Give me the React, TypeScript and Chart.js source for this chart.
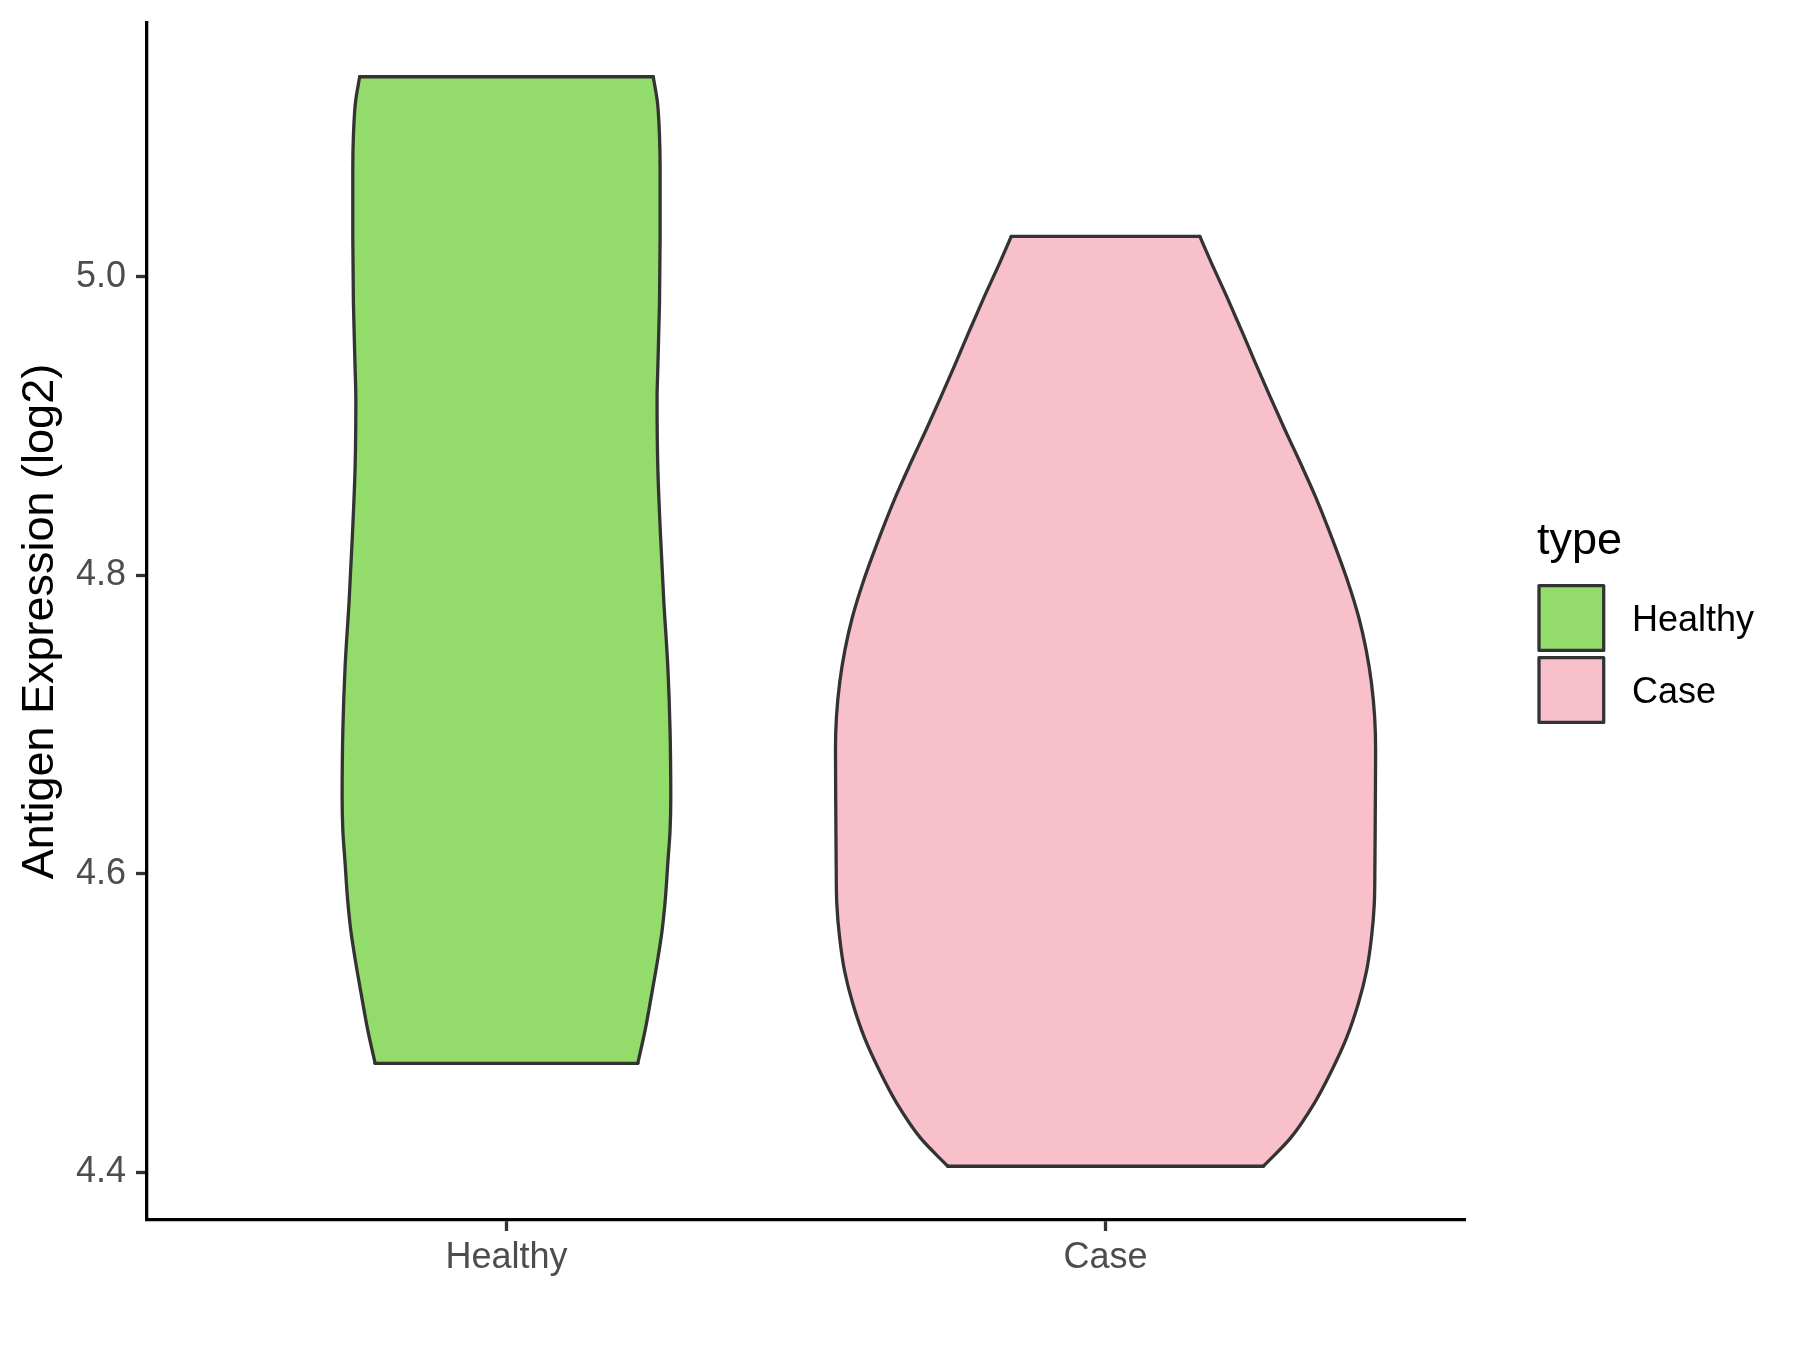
import React, { useEffect, useRef } from 'react';
import { Chart, registerables } from 'chart.js';

Chart.register(...registerables);

// ---------- data ----------
const categories = ['Healthy', 'Case'];
const categoryPositions = [1, 2];
const fillColors = ['#93DB6B', '#F7C0CB'];
const outlineColor = '#333333';
const yTickValues = [4.4, 4.6, 4.8, 5.0];
const legendTitle = 'type';
const yAxisTitle = 'Antigen Expression (log2)';

// Healthy violin: expression values (top to bottom) and half-widths (x units)
const healthyY = [5.134, 5.117, 5.094, 5.072, 5.027, 4.983, 4.938, 4.918, 4.873, 4.828, 4.783, 4.739, 4.696, 4.651, 4.629, 4.607, 4.584, 4.562, 4.54, 4.517, 4.495, 4.473];
const healthyHalfWidth = [0.245, 0.252, 0.2555, 0.2565, 0.2565, 0.2555, 0.2526, 0.2514, 0.2526, 0.257, 0.2626, 0.2693, 0.2731, 0.2743, 0.2731, 0.2693, 0.2654, 0.2598, 0.2514, 0.2414, 0.2314, 0.2192];

// Case violin
const caseY = [5.027, 5.009, 4.987, 4.964, 4.942, 4.92, 4.897, 4.875, 4.853, 4.83, 4.795, 4.772, 4.75, 4.728, 4.705, 4.683, 4.638, 4.604, 4.58, 4.558, 4.535, 4.513, 4.49, 4.468, 4.446, 4.423, 4.404];
const caseHalfWidth = [0.1574, 0.177, 0.202, 0.227, 0.2504, 0.2743, 0.3, 0.3255, 0.35, 0.373, 0.405, 0.4225, 0.435, 0.4438, 0.4492, 0.4508, 0.4502, 0.4496, 0.4486, 0.4441, 0.4357, 0.4219, 0.4023, 0.3773, 0.3481, 0.309, 0.2633];

const violinYs = [healthyY, caseY];
const violinHalfWidths = [healthyHalfWidth, caseHalfWidth];

const FONT = '"Liberation Sans", Arial, Helvetica, sans-serif';
const LINE_W = 3.3;

type Pt = { x: number; y: number };

function polygon(center: number, ys: number[], hws: number[]): Pt[] {
  const pts: Pt[] = [];
  const n = ys.length;
  for (let i = n - 1; i >= 0; i--) pts.push({ x: center + hws[i], y: ys[i] });
  for (let i = 0; i < n; i++) pts.push({ x: center - hws[i], y: ys[i] });
  return pts;
}

function side(center: number, ys: number[], hws: number[], sign: number): Pt[] {
  return ys.map((y, i) => ({ x: center + sign * hws[i], y }));
}

function edge(center: number, y: number, hw: number): Pt[] {
  return [
    { x: center - hw, y },
    { x: center + hw, y },
  ];
}

const legendPlugin = {
  id: 'violinLegend',
  afterDraw(chart: any) {
    const ctx = chart.ctx;
    ctx.save();
    ctx.textAlign = 'left';
    ctx.textBaseline = 'alphabetic';
    ctx.fillStyle = '#000000';
    ctx.font = `45px ${FONT}`;
    ctx.fillText(legendTitle, 1537, 554);
    categories.forEach((label, i) => {
      const top = 585.7 + i * 72;
      ctx.fillStyle = fillColors[i];
      ctx.fillRect(1539, top, 64.7, 64.7);
      ctx.lineWidth = LINE_W;
      ctx.lineJoin = 'round';
      ctx.strokeStyle = outlineColor;
      ctx.strokeRect(1539, top, 64.7, 64.7);
      ctx.fillStyle = '#000000';
      ctx.font = `36px ${FONT}`;
      ctx.fillText(label, 1632, top + 32.35 + 13);
    });
    ctx.restore();
  },
};

export default function App() {
  const canvasRef = useRef<HTMLCanvasElement | null>(null);

  useEffect(() => {
    if (!canvasRef.current) return;
    const datasets: any[] = [];
    const outline = {
      showLine: true,
      fill: false,
      borderColor: outlineColor,
      borderWidth: LINE_W,
      borderCapStyle: 'round',
      borderJoinStyle: 'round',
      pointRadius: 0,
      pointHoverRadius: 0,
      order: 0,
    };
    categories.forEach((name, i) => {
      const c = categoryPositions[i];
      const ys = violinYs[i];
      const hws = violinHalfWidths[i];
      const n = ys.length;
      // filled body
      datasets.push({
        label: name,
        data: polygon(c, ys, hws),
        showLine: true,
        fill: 'shape',
        backgroundColor: fillColors[i],
        borderColor: fillColors[i],
        borderWidth: 0,
        pointRadius: 0,
        pointHoverRadius: 0,
        tension: 0,
        order: 1,
      });
      // smooth sides (interpolated along the value axis)
      [1, -1].forEach((sgn) => {
        datasets.push({
          ...outline,
          label: name + (sgn > 0 ? ' right' : ' left'),
          data: side(c, ys, hws, sgn),
          indexAxis: 'y',
          cubicInterpolationMode: 'monotone',
        });
      });
      // top and bottom edges
      datasets.push({ ...outline, label: name + ' top', data: edge(c, ys[0], hws[0]), tension: 0 });
      datasets.push({ ...outline, label: name + ' bottom', data: edge(c, ys[n - 1], hws[n - 1]), tension: 0 });
    });

    const tickGrid = {
      display: true,
      drawOnChartArea: false,
      drawTicks: true,
      tickLength: 11,
      tickWidth: LINE_W,
      tickColor: outlineColor,
    };

    const chart = new Chart(canvasRef.current, {
      type: 'scatter',
      data: { datasets },
      options: {
        animation: false,
        responsive: false,
        devicePixelRatio: 1,
        layout: { padding: { left: 0, top: 23, right: 335, bottom: 0 } },
        plugins: {
          legend: { display: false },
          tooltip: { enabled: false },
        },
        scales: {
          x: {
            type: 'linear',
            min: 0.4,
            max: 2.6,
            afterBuildTicks: (scale: any) => {
              scale.ticks = categoryPositions.map((v) => ({ value: v }));
            },
            afterFit: (scale: any) => {
              scale.height = 130;
              scale.paddingLeft = 0;
              scale.paddingRight = 0;
            },
            ticks: {
              autoSkip: false,
              maxRotation: 0,
              padding: 5,
              color: '#4D4D4D',
              font: { family: FONT, size: 36 },
              callback: (_v: any, index: number) => categories[index],
            },
            grid: tickGrid,
            border: { display: true, color: '#000000', width: LINE_W },
          },
          y: {
            type: 'linear',
            min: 4.368,
            max: 5.17,
            afterBuildTicks: (scale: any) => {
              scale.ticks = yTickValues.map((v) => ({ value: v }));
            },
            afterFit: (scale: any) => {
              scale.width = 147;
              scale.paddingTop = 0;
              scale.paddingBottom = 0;
            },
            ticks: {
              padding: 10,
              color: '#4D4D4D',
              font: { family: FONT, size: 36 },
              callback: (v: any) => Number(v).toFixed(1),
            },
            grid: tickGrid,
            border: { display: true, color: '#000000', width: LINE_W },
            title: {
              display: true,
              text: yAxisTitle,
              color: '#000000',
              font: { family: FONT, size: 45 },
              padding: { top: 14, bottom: 0 },
            },
          },
        },
      },
      plugins: [legendPlugin],
    });
    return () => chart.destroy();
  }, []);

  return (
    <div style={{ position: 'absolute', left: 0, top: 0, width: 1800, height: 1350, background: '#ffffff' }}>
      <canvas ref={canvasRef} width={1800} height={1350} style={{ width: 1800, height: 1350, display: 'block' }} />
    </div>
  );
}
